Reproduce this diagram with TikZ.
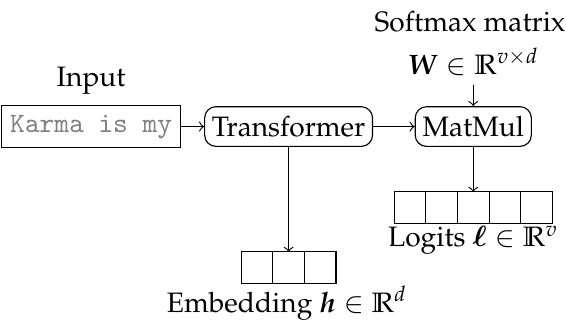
\documentclass[tikz,border=0pt]{standalone}
\usepackage{amsmath,amssymb}
\usepackage[OT1]{fontenc}
\usepackage{mathpazo}
\renewcommand{\ttdefault}{cmtt}
\usepackage{bm}
\usepackage{tikz}
\usetikzlibrary{positioning}
\usepackage{xcolor}

\begin{document}
\begin{tikzpicture}[>=to,line cap=round,
  blk/.style={draw,rounded corners=4pt,minimum height=0.49cm,inner xsep=2.6pt},
  inbox/.style={draw,minimum height=0.49cm,inner xsep=3pt,font=\ttfamily,text=gray},
  cell/.style={draw,minimum size=0.395cm,inner sep=0pt,outer sep=0pt}]
\useasboundingbox (0,0) rectangle (7.08,4.053);
% main row
\node[inbox] (input) at (1.14,2.47) {Karma is my};
\node[blk] (trans) at (3.61,2.47) {Transformer};
\node[blk] (matmul) at (5.92,2.47) {MatMul};
\node (inlab) at (1.14,3.05) {Input};
\node (smlab) at (5.88,3.78) {Softmax matrix};
\node (wmat) at (5.92,3.28) {$\bm{W}\in\mathbb{R}^{v\times d}$};
% vectors
\foreach \i in {1,...,5}
  \node[cell] (l\i) at ({5.92+(\i-3)*0.395},1.455) {};
\foreach \i in {1,...,3}
  \node[cell] (e\i) at ({3.61+(\i-2)*0.395},0.705) {};
\node (loglab) at (5.92,1.05) {Logits $\bm{\ell}\in\mathbb{R}^{v}$};
\node (emblab) at (3.59,0.26) {Embedding $\bm{h}\in\mathbb{R}^{d}$};
% arrows
\draw[->] (input) -- (trans);
\draw[->] (trans) -- (matmul);
\draw[->] (wmat) -- (matmul);
\draw[->] (matmul) -- (l3.north);
\draw[->] (trans) -- (e2.north);
\end{tikzpicture}
\end{document}
